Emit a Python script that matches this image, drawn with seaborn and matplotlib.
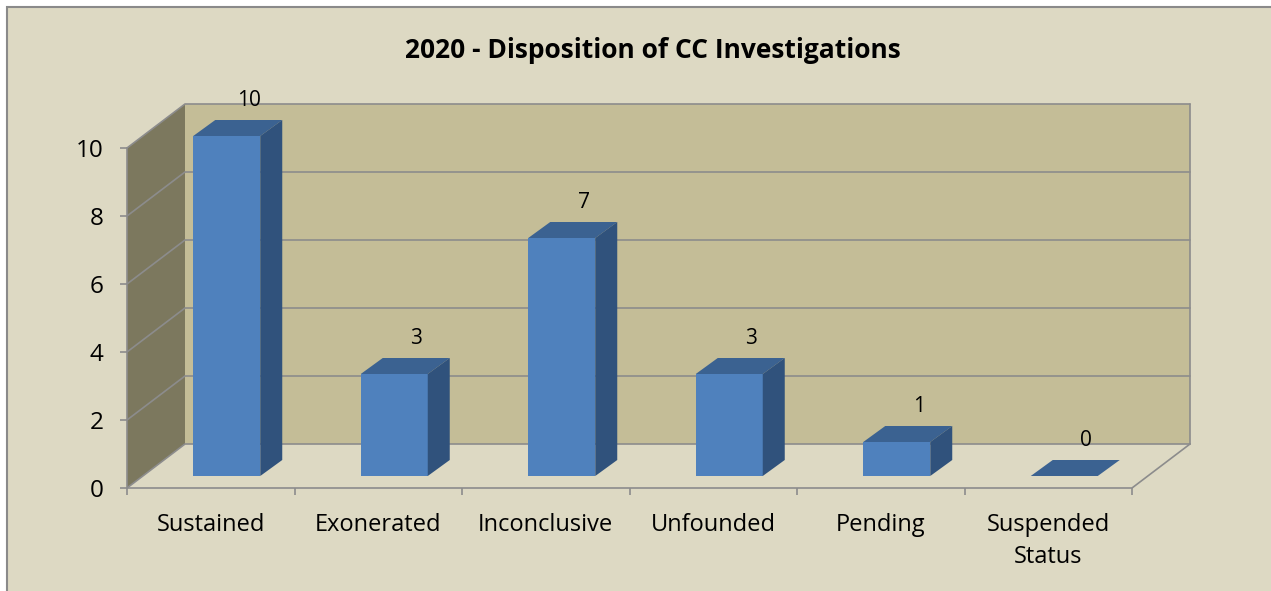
import numpy as np
import matplotlib
matplotlib.use("Agg")
import matplotlib.pyplot as plt
from matplotlib.patches import Polygon, Rectangle
import seaborn as sns

# ─── Data ───────────────────────────────────────────────────────────────────────
categories = ["Sustained", "Exonerated", "Inconclusive", "Unfounded", "Pending",
              "Suspended\nStatus"]
counts = [10, 3, 7, 3, 1, 0]
y_ticks = [0, 2, 4, 6, 8, 10]
title = "2020 - Disposition of CC Investigations"

# ─── Style ──────────────────────────────────────────────────────────────────────
BG = "#DDD9C3"
BACK_WALL = "#C4BD97"
SIDE_WALL = "#7C785E"
GRID = "#8C8C8C"
FRONT = "#4F81BD"
TOP = "#3B6291"
SIDE = "#30527C"

sns.set_theme(style="white")
plt.rcParams["font.family"] = ["Open Sans", "DejaVu Sans"]

W, H = 1271, 591
fig = plt.figure(figsize=(W / 100, H / 100), dpi=100, facecolor="white")

# outer chart frame
fig.patches.append(Rectangle((7 / W, -0.1), 1.2, (H - 7) / H + 0.1,
                             transform=fig.transFigure, fc=BG, ec="#8A8A8A",
                             lw=1.5, zorder=-10))

# axes = front plane of the 3D box
x0, x1, y0, y1 = 127, 1132, 488, 148
ax = fig.add_axes([x0 / W, (H - y0) / H, (x1 - x0) / W, (y0 - y1) / H])
ax.set_facecolor("none")

sns.barplot(x=categories, y=counts, color=FRONT, saturation=1, width=0.4,
            linewidth=0, ax=ax, zorder=3)
bars = list(ax.patches)

ax.set_xlim(-0.5, len(categories) - 0.5)
ax.set_ylim(0, 10)
px_x = len(categories) / (x1 - x0)   # data units per pixel
px_y = 10 / (y0 - y1)

# depth of the box, bar offset and bar depth (pixels -> data)
dX, dY = 58 * px_x, 44 * px_y
oX, oY = 16 * px_x, 12 * px_y
bX, bY = 22 * px_x, 16 * px_y

L, R = -0.5, len(categories) - 0.5
kw = dict(clip_on=False, lw=1.2)
ax.add_patch(Polygon([(L + dX, dY), (R + dX, dY), (R + dX, 10 + dY), (L + dX, 10 + dY)],
                     fc=BACK_WALL, ec="none", zorder=0, **kw))
ax.add_patch(Polygon([(L, 0), (L + dX, dY), (L + dX, 10 + dY), (L, 10)],
                     fc=SIDE_WALL, ec="none", zorder=0, **kw))
ax.add_patch(Polygon([(L, 0), (R, 0), (R + dX, dY), (L + dX, dY)],
                     fc=BG, ec="none", zorder=0, **kw))
for t in y_ticks:
    ax.plot([L, L + dX, R + dX], [t, t + dY, t + dY], color=GRID, zorder=1, **kw)
ax.plot([L, L], [0, 10], color=GRID, zorder=1, **kw)
ax.plot([R + dX, R + dX], [dY, 10 + dY], color=GRID, zorder=1, **kw)
ax.plot([L, R, R + dX], [0, 0, dY], color=GRID, zorder=1, **kw)

# 3D bars: shift front faces and add top / side faces
for p, v in zip(bars, counts):
    p.set_x(p.get_x() + oX)
    p.set_y(p.get_y() + oY)
    p.set_clip_on(False)
    bx, by, bw, bh = p.get_x(), p.get_y(), p.get_width(), p.get_height()
    top = [(bx, by + bh), (bx + bw, by + bh), (bx + bw + bX, by + bh + bY), (bx + bX, by + bh + bY)]
    ax.add_patch(Polygon(top, fc=TOP, ec="none", zorder=4, clip_on=False))
    if bh > 0:
        side = [(bx + bw, by), (bx + bw + bX, by + bY), (bx + bw + bX, by + bh + bY), (bx + bw, by + bh)]
        ax.add_patch(Polygon(side, fc=SIDE, ec="none", zorder=4, clip_on=False))
    ax.annotate(str(v), (bx + bw / 2 + bX, by + bh + bY), xytext=(0, 14),
                textcoords="offset points", ha="center", va="center",
                fontsize=15, color="black", annotation_clip=False, zorder=5)

for s in ax.spines.values():
    s.set_visible(False)

ax.set_yticks(y_ticks)
ax.set_yticklabels([str(t) for t in y_ticks])
ax.tick_params(axis="y", left=True, length=5, width=1.2, color=GRID, pad=12,
               labelsize=17.5, labelcolor="black")
ax.set_xticks(range(len(categories)))
ax.set_xticklabels(categories, linespacing=1.45)
ax.set_xticks(np.arange(-0.5, len(categories)), minor=True)
ax.tick_params(axis="x", which="major", length=0, pad=18, labelsize=17,
               labelcolor="black")
ax.tick_params(axis="x", which="minor", bottom=True, length=5, width=1.2, color=GRID)
ax.set_xlabel("")
ax.set_ylabel("")

fig.text(653 / W, 1 - 50 / H, title, ha="center", va="center",
         fontsize=19, fontweight="bold", color="black")

fig.savefig("out.png", dpi=100, facecolor="white")
